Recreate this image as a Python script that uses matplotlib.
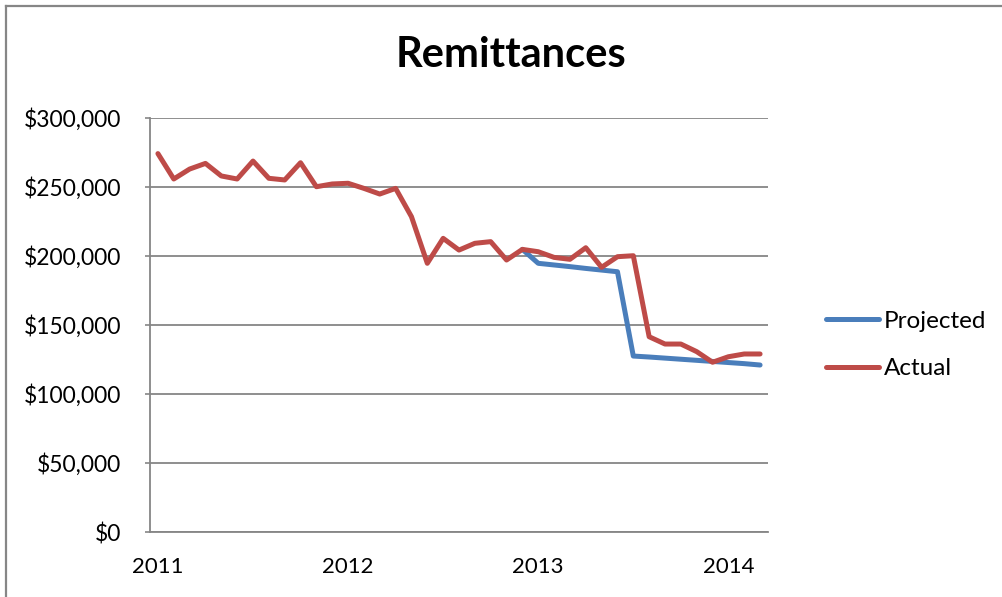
import numpy as np
import matplotlib
matplotlib.use("Agg")
import matplotlib.pyplot as plt
from matplotlib.lines import Line2D

# ---- data (monthly, Jan 2011 - Mar 2014) ----
actual = [274200, 255800, 263000, 267100, 258000, 255800, 268800, 256300, 255100, 267600,
          250200, 252200, 252700, 249000, 244900, 249000, 228500, 194700, 212800, 204300,
          209200, 210400, 197100, 204800, 203100, 199000, 197600, 206000, 191800, 199500,
          200200, 141500, 136200, 136200, 130700, 123000, 127000, 129000, 129000]
projected = [np.nan] * 23 + [204800, 194700, 193500, 192300, 191000, 189800, 188600,
                             127500, 126800, 126000, 125200, 124400, 123600, 122800,
                             122000, 121000]
year_labels = ["2011", "2012", "2013", "2014"]
year_index = [0, 12, 24, 36]
y_ticks = [0, 50000, 100000, 150000, 200000, 250000, 300000]
series_names = ["Projected", "Actual"]

BLUE = "#4A7EBB"
RED = "#BE4B48"
GRID = "#868686"
FONT = "Lato"

fig = plt.figure(figsize=(10.03, 5.97), dpi=100)
W, H = 1003, 597

# chart-area border (left and top visible)
fig.add_artist(Line2D([6.5 / W, 6.5 / W], [0, 1 - 5.5 / H], transform=fig.transFigure,
                      color=GRID, lw=1.6))
fig.add_artist(Line2D([6.5 / W, 1], [1 - 5.5 / H, 1 - 5.5 / H], transform=fig.transFigure,
                      color=GRID, lw=1.6))

ax = fig.add_axes([150 / W, 1 - 532 / H, (768 - 150) / W, (532 - 118) / H])
x = np.arange(len(actual))
ax.plot(x, projected, color=BLUE, lw=3.6, solid_capstyle="round", solid_joinstyle="round",
        label=series_names[0], zorder=3)
ax.plot(x, actual, color=RED, lw=3.6, solid_capstyle="round", solid_joinstyle="round",
        label=series_names[1], zorder=4)

ax.set_xlim(-0.5, len(actual) - 0.5)
ax.set_ylim(0, 300000)
ax.set_yticks(y_ticks)
ax.set_yticklabels([f"${v:,.0f}" for v in y_ticks], fontfamily=FONT, fontsize=16.5)
ax.set_xticks(year_index)
ax.set_xticklabels(year_labels, fontfamily=FONT, fontsize=16)
ax.tick_params(axis="x", length=0, pad=18)
ax.tick_params(axis="y", length=3.5, width=1.2, color=GRID, pad=17)
ax.yaxis.grid(True, color=GRID, lw=1.3)
ax.set_axisbelow(True)
for s in ["top", "right"]:
    ax.spines[s].set_visible(False)
for s in ["left", "bottom"]:
    ax.spines[s].set_color(GRID)
    ax.spines[s].set_linewidth(1.3)

fig.text(511 / W, 1 - 55 / H, "Remittances", ha="center", va="center",
         fontfamily=FONT, fontweight="bold", fontsize=30)

leg = fig.legend(loc="center left", bbox_to_anchor=(804 / W, 1 - 345 / H), frameon=False,
                 prop={"family": FONT, "size": 17.5}, handlelength=2.2, handletextpad=0.2,
                 labelspacing=1.1)

fig.savefig("out.png", dpi=100)
